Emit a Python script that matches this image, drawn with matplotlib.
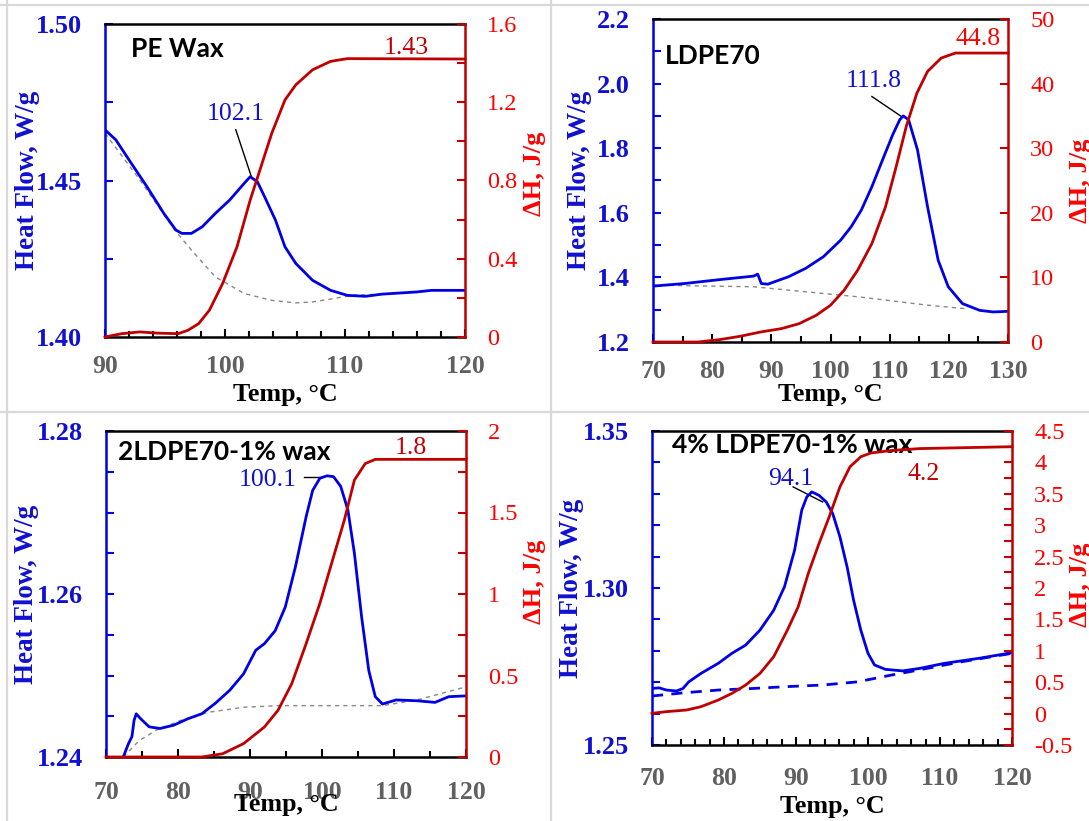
import matplotlib
matplotlib.use("Agg")
import matplotlib.pyplot as plt
from matplotlib.ticker import MultipleLocator, FuncFormatter
from matplotlib.lines import Line2D

# ---------------- data ----------------
# Panel 1: PE Wax
pe_hf_t = [90, 90.9, 92.0, 93.5, 94.9, 95.9, 96.4, 97.2, 98.1, 99.2, 100.4, 101.6, 102.1, 102.7,
           103.3, 104.2, 105.0, 105.9, 107.3, 108.8, 110.2, 111.7, 113.1, 116.0, 117.2, 120]
pe_hf = [1.4662, 1.4630, 1.4566, 1.4480, 1.4395, 1.4342, 1.4331, 1.4331, 1.4352, 1.4395, 1.4438,
         1.4491, 1.4512, 1.4496, 1.4448, 1.4374, 1.4288, 1.4235, 1.4181, 1.4149, 1.4133, 1.4130,
         1.4137, 1.4144, 1.4149, 1.4149]
pe_base_t = [90, 92.9, 95.8, 97.2, 99.2, 101.6, 103.9, 105.9, 107.3, 109.1, 110.5, 113.1]
pe_base = [1.4651, 1.4502, 1.4342, 1.4278, 1.4192, 1.4139, 1.4117, 1.4109, 1.4112, 1.4123, 1.4133, 1.4137]
pe_dh_t = [90, 91.4, 92.9, 94.3, 96.1, 96.9, 97.8, 98.7, 99.8, 101.0, 102.1, 103.0, 103.9, 105.0,
           105.9, 107.3, 108.8, 110.2, 120]
pe_dh = [0, 0.017, 0.026, 0.020, 0.017, 0.034, 0.068, 0.137, 0.273, 0.461, 0.70, 0.871, 1.042,
         1.212, 1.289, 1.366, 1.409, 1.423, 1.421]

# Panel 2: LDPE70
ld_hf_t = [70, 75.3, 81.2, 87.0, 87.7, 88.3, 89.4, 92.9, 95.8, 98.8, 101.7, 103.5, 105.2, 107.0,
           108.8, 110.5, 111.7, 112.3, 113.2, 114.7, 116.4, 118.2, 119.9, 122.3, 125.2, 127.5, 130]
ld_hf = [1.373, 1.381, 1.393, 1.404, 1.410, 1.381, 1.379, 1.402, 1.428, 1.464, 1.515, 1.557, 1.608,
         1.681, 1.764, 1.841, 1.888, 1.900, 1.888, 1.795, 1.619, 1.453, 1.371, 1.319, 1.298, 1.293, 1.295]
ld_base_t = [70, 87.0, 104.6, 116.4, 122.9]
ld_base = [1.376, 1.371, 1.340, 1.314, 1.303]
ld_dh_t = [70, 77.6, 81.2, 84.7, 88.2, 91.7, 94.7, 97.6, 100.0, 102.3, 104.6, 107.0, 109.3, 111.1,
           112.8, 114.6, 116.4, 118.7, 121.1, 130]
ld_dh = [0, 0, 0.36, 0.88, 1.55, 2.07, 2.84, 4.14, 5.69, 8.01, 11.12, 15.25, 20.94, 27.15, 33.35,
         38.52, 41.88, 43.95, 44.73, 44.73]

# Panel 3: 2LDPE70-1% wax
b2_hf_t = [72.4, 73.1, 73.6, 73.9, 74.2, 74.8, 76.0, 77.5, 79.4, 81.4, 83.3, 85.2, 87.2, 89.1, 90.8,
           92.0, 93.5, 94.9, 96.3, 97.8, 98.7, 99.7, 100.7, 101.6, 102.6, 103.6, 104.5, 105.5, 106.5,
           107.4, 108.4, 110.3, 113.2, 115.7, 117.6, 120]
b2_hf = [1.2400, 1.2416, 1.2425, 1.2445, 1.2453, 1.2447, 1.2437, 1.2435, 1.2439, 1.2447, 1.2453,
         1.2466, 1.2482, 1.2502, 1.2531, 1.2539, 1.2555, 1.2584, 1.2633, 1.2695, 1.2727, 1.2742,
         1.2745, 1.2744, 1.2732, 1.2703, 1.2650, 1.2572, 1.2506, 1.2474, 1.2465, 1.2470, 1.2469,
         1.2467, 1.2474, 1.2475]
b2_base_t = [72.4, 74.6, 77.0, 80.4, 84.3, 89.1, 93.9, 103.6, 108.4, 113.2, 120]
b2_base = [1.2400, 1.2420, 1.2433, 1.2445, 1.2455, 1.2461, 1.2463, 1.2463, 1.2463, 1.2470, 1.2486]
b2_dh_t = [70, 83.3, 86.2, 89.1, 92.0, 93.9, 95.8, 97.8, 99.7, 101.6, 103.1, 104.5, 106.0, 107.4, 120]
b2_dh = [0, 0, 0.02, 0.082, 0.184, 0.287, 0.45, 0.696, 0.942, 1.228, 1.453, 1.699, 1.80, 1.826, 1.826]

# Panel 4: 4% LDPE70-1% wax
b4_hf_t = [70, 71.0, 72.0, 73.4, 74.3, 75.1, 76.8, 79.2, 81.1, 83.0, 85.0, 86.9, 88.4, 89.8, 90.8,
           91.5, 92.2, 93.2, 94.2, 95.1, 96.1, 97.1, 98.0, 99.0, 100.0, 100.9, 102.4, 104.8, 107.2,
           110.6, 115.4, 120]
b4_hf = [1.2680, 1.2682, 1.2675, 1.2672, 1.2680, 1.2701, 1.2728, 1.2760, 1.2792, 1.2818, 1.2866,
         1.2929, 1.3004, 1.3120, 1.3248, 1.3290, 1.3306, 1.3295, 1.3274, 1.3237, 1.3163, 1.3067,
         1.2961, 1.2866, 1.2792, 1.2755, 1.2741, 1.2736, 1.2744, 1.2760, 1.2776, 1.2794]
b4_base_t = [70, 74.3, 79.2, 84.0, 88.8, 93.7, 98.5, 100.9, 103.3, 105.7, 108.2, 113.0, 120]
b4_base = [1.2656, 1.2666, 1.2675, 1.2680, 1.2686, 1.2691, 1.2701, 1.2712, 1.2723, 1.2733, 1.2744,
           1.2765, 1.2792]
b4_dh_t = [70, 71.9, 74.8, 76.8, 79.2, 81.1, 83.0, 85.0, 86.9, 88.8, 90.3, 91.7, 93.2, 94.6, 96.1,
           97.5, 99.0, 100.4, 103.3, 107.2, 120]
b4_dh = [0.004, 0.03, 0.057, 0.11, 0.216, 0.322, 0.454, 0.64, 0.905, 1.329, 1.70, 2.23, 2.71, 3.13,
         3.61, 3.93, 4.09, 4.15, 4.19, 4.22, 4.25]

titles = ["PE Wax", "LDPE70", "2LDPE70-1% wax", "4% LDPE70-1% wax"]
peak_labels = ["102.1", "111.8", "100.1", "94.1"]
dh_labels = ["1.43", "44.8", "1.8", "4.2"]

# ---------------- style ----------------
W, H = 1089, 821
SERIF = "Liberation Serif"
BLUE = "#0000E6"
BLUE_TXT = "#1010D0"
DRED = "#C00000"
RED_TXT = "#FF0000"
GREY_TXT = "#606060"
YTICK_FS = 19
XTICK_FS = 18.5
Y2TICK_FS = 17.5
ANN_FS = 18.5

fig = plt.figure(figsize=(W / 100, H / 100), dpi=100)

# light grey frame lines
for seg in [((7, 7), (0, H)), ((0, W), (5, 5)), ((551, 551), (0, H)), ((0, W), (412, 412))]:
    fig.add_artist(Line2D([seg[0][0] / W, seg[0][1] / W], [1 - seg[1][0] / H, 1 - seg[1][1] / H],
                          color="#d9d9d9", lw=1.6, transform=fig.transFigure))


def make_panel(box, xlim, xmaj, xmin, ylim, ymaj, ymin, yfmt, y2lim, y2maj, y2min,
               ylab_x, y2lab_x, y2lab_y, xlab_y, xpad):
    l, t, r, b = box
    ax = fig.add_axes([l / W, 1 - b / H, (r - l) / W, (b - t) / H])
    ax2 = ax.twinx()
    ax.set_xlim(*xlim)
    ax.set_ylim(*ylim)
    ax2.set_ylim(*y2lim)
    ax.xaxis.set_major_locator(MultipleLocator(xmaj))
    ax.xaxis.set_minor_locator(MultipleLocator(xmin))
    ax.yaxis.set_major_locator(MultipleLocator(ymaj))
    ax.yaxis.set_minor_locator(MultipleLocator(ymin))
    ax2.yaxis.set_major_locator(MultipleLocator(y2maj))
    ax2.yaxis.set_minor_locator(MultipleLocator(y2min))
    ax.yaxis.set_major_formatter(FuncFormatter(lambda v, p: yfmt % v))
    ax2.yaxis.set_major_formatter(FuncFormatter(lambda v, p: f"{v:g}"))
    ax.xaxis.set_major_formatter(FuncFormatter(lambda v, p: f"{v:g}"))

    for s in ["top", "bottom"]:
        ax.spines[s].set_color("black")
        ax.spines[s].set_linewidth(1.8)
    ax.spines["left"].set_color(BLUE)
    ax.spines["left"].set_linewidth(1.8)
    ax.spines["right"].set_visible(False)
    for s in ["left", "top", "bottom"]:
        ax2.spines[s].set_visible(False)
    ax2.spines["right"].set_color(DRED)
    ax2.spines["right"].set_linewidth(1.8)

    ax.tick_params(axis="x", which="both", direction="in", top=False, color="black", width=1.5,
                   labelcolor=GREY_TXT, labelsize=XTICK_FS, pad=xpad)
    ax.tick_params(axis="x", which="major", length=6)
    ax.tick_params(axis="x", which="minor", length=4)
    ax.tick_params(axis="y", which="both", direction="in", right=False, color=BLUE, width=1.5,
                   labelcolor=BLUE_TXT, labelsize=YTICK_FS, pad=16.5, length=6)
    ax2.tick_params(axis="y", which="both", direction="in", color=DRED, width=1.5,
                    labelcolor=RED_TXT, labelsize=Y2TICK_FS, pad=16, length=6)
    for lab in ax.get_xticklabels() + ax.get_yticklabels():
        lab.set_fontfamily(SERIF)
        lab.set_fontweight("bold")
    for lab in ax2.get_yticklabels():
        lab.set_fontfamily(SERIF)

    ax.set_ylabel("Heat Flow, W/g", fontsize=19.5, fontweight="bold", family=SERIF, color=BLUE_TXT)
    ax.yaxis.set_label_coords(ylab_x, 0.5)
    ax.yaxis.label.set_va("center")
    ax2.set_ylabel("ΔH, J/g", fontsize=19, fontweight="bold", family=SERIF, color=RED_TXT)
    ax2.yaxis.set_label_coords(y2lab_x, y2lab_y)
    ax2.yaxis.label.set_va("center")
    ax.set_xlabel("Temp, °C", fontsize=18.7, fontweight="bold", family=SERIF, color="black")
    ax.xaxis.set_label_coords(0.5, xlab_y)
    ax.xaxis.label.set_va("center")
    return ax, ax2


def title(ax, x, y, s):
    ax.text(x, y, s, transform=ax.transAxes, fontsize=19, fontweight="bold", family="Lato",
            color="black", ha="left", va="center", zorder=10)


# ---- Panel 1 ----
ax, ax2 = make_panel((105, 24, 465, 337), (90, 120), 10, 2, (1.40, 1.50), 0.05, 0.025, "%.2f",
                     (0, 1.6), 0.4, 0.2, -0.214, 1.194, 0.52, -0.185, 13)
ax.plot(pe_base_t, pe_base, color="#888888", lw=1.0, ls=(0, (3, 3)), zorder=2)
ax.plot(pe_hf_t, pe_hf, color=BLUE, lw=2.0, zorder=3)
ax2.plot(pe_dh_t, pe_dh, color=DRED, lw=2.0, clip_on=False)
title(ax, 0.073, 0.92, titles[0])
ax.text(100.9, 1.4712, peak_labels[0], color=BLUE_TXT, fontsize=ANN_FS, family=SERIF, ha="center", va="center")
ax.plot([100.9, 102.2], [1.4662, 1.4512], color="black", lw=1.0)
ax2.text(115.1, 1.475, dh_labels[0], color=DRED, fontsize=ANN_FS, family=SERIF, ha="center", va="center")

# ---- Panel 2 ----
ax, ax2 = make_panel((653, 19, 1008, 342), (70, 130), 10, 5, (1.2, 2.2), 0.2, 0.1, "%.1f",
                     (0, 50), 10, 10, -0.206, 1.203, 0.50, -0.164, 13)
ax.plot(ld_base_t, ld_base, color="#888888", lw=1.0, ls=(0, (3, 3)), zorder=2)
ax.plot(ld_hf_t, ld_hf, color=BLUE, lw=2.0, zorder=3)
ax2.plot(ld_dh_t, ld_dh, color=DRED, lw=2.0, clip_on=False)
title(ax, 0.034, 0.884, titles[1])
ax.text(107.3, 2.009, peak_labels[1], color=BLUE_TXT, fontsize=ANN_FS, family=SERIF, ha="center", va="center")
ax.plot([107.0, 112.0], [1.96, 1.898], color="black", lw=1.0)
ax2.text(124.9, 46.9, dh_labels[1], color=RED_TXT, fontsize=ANN_FS, family=SERIF, ha="center", va="center")

# ---- Panel 3 ----
ax, ax2 = make_panel((106, 431, 466, 757), (70, 120), 10, 5, (1.24, 1.28), 0.02, 0.005, "%.2f",
                     (0, 2), 0.5, 0.25, -0.222, 1.19, 0.537, -0.147, 17)
ax.plot(b2_base_t, b2_base, color="#888888", lw=1.0, ls=(0, (3, 3)), zorder=2)
ax.plot(b2_hf_t, b2_hf, color=BLUE, lw=2.0, zorder=3)
ax2.plot(b2_dh_t, b2_dh, color=DRED, lw=2.0, clip_on=False)
title(ax, 0.032, 0.937, titles[2])
ax.text(92.5, 1.2740, peak_labels[2], color=BLUE_TXT, fontsize=ANN_FS, family=SERIF, ha="center", va="center")
ax.plot([97.5, 99.9], [1.2743, 1.2743], color="black", lw=1.0)
ax2.text(112.3, 1.894, dh_labels[2], color=DRED, fontsize=ANN_FS, family=SERIF, ha="center", va="center")

# ---- Panel 4 ----
ax, ax2 = make_panel((652, 431, 1012, 745), (70, 120), 10, 2, (1.25, 1.35), 0.05, 0.01, "%.2f",
                     (-0.5, 4.5), 0.5, 0.25, -0.225, 1.189, 0.51, -0.197, 16)
ax.plot(b4_base_t, b4_base, color=BLUE, lw=2.0, ls=(0, (4, 3)), zorder=2)
ax.plot(b4_hf_t, b4_hf, color=BLUE, lw=2.0, zorder=3)
ax2.plot(b4_dh_t, b4_dh, color=DRED, lw=2.0, clip_on=False)
title(ax, 0.056, 0.954, titles[3])
ax.text(89.3, 1.3348, peak_labels[3], color=BLUE_TXT, fontsize=ANN_FS, family=SERIF, ha="center", va="center")
ax.plot([89.6, 93.7], [1.3322, 1.3274], color="black", lw=1.0)
ax2.text(107.7, 3.82, dh_labels[3], color=DRED, fontsize=ANN_FS, family=SERIF, ha="center", va="center")

fig.savefig("out.png", dpi=100)
